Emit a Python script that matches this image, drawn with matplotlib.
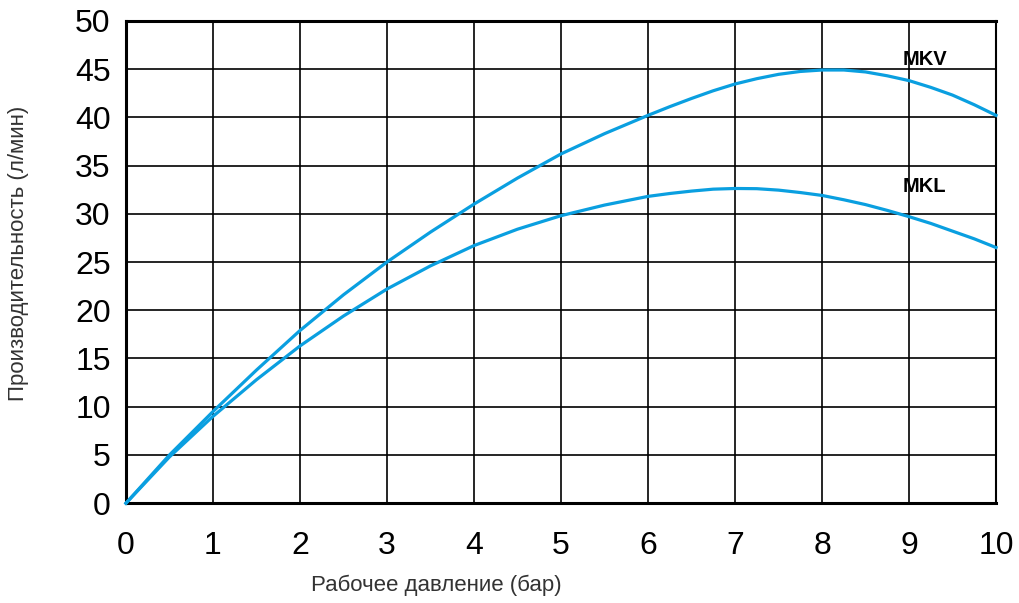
import matplotlib.pyplot as plt

davlenie = [0, 0.5, 1, 1.5, 2, 2.5, 3, 3.5, 4, 4.5, 5, 5.5, 6, 6.25, 6.5, 6.75, 7, 7.25, 7.5, 7.75,
            8, 8.25, 8.5, 8.75, 9, 9.25, 9.5, 9.75, 10]
mkv = [0, 5.0, 9.5, 13.8, 17.9, 21.6, 25.0, 28.1, 31.0, 33.7, 36.2, 38.3, 40.2, 41.1, 41.95, 42.75, 43.45,
       44.0, 44.45, 44.75, 44.9, 44.9, 44.7, 44.3, 43.8, 43.1, 42.3, 41.3, 40.2]
mkl = [0, 4.8, 9.0, 12.8, 16.3, 19.4, 22.2, 24.6, 26.7, 28.4, 29.8, 30.9, 31.8, 32.1, 32.35, 32.55, 32.62,
       32.6, 32.45, 32.2, 31.9, 31.45, 30.95, 30.35, 29.7, 29.0, 28.2, 27.4, 26.5]
xticks = list(range(0, 11))
yticks = list(range(0, 51, 5))

plt.rcParams['font.family'] = ['Liberation Sans', 'DejaVu Sans']

fig = plt.figure(figsize=(10.2, 6.03), dpi=100)
ax = fig.add_axes([0.1235, 0.1655, 0.853, 0.8])

ax.plot(davlenie, mkv, color='#0a9fe0', lw=2.3, zorder=3, clip_on=False, solid_joinstyle='round')
ax.plot(davlenie, mkl, color='#0a9fe0', lw=2.3, zorder=3, clip_on=False, solid_joinstyle='round')

ax.set_xlim(0, 10)
ax.set_ylim(0, 50)
ax.set_xticks(xticks)
ax.set_yticks(yticks)
ax.tick_params(axis='both', length=0, labelsize=23)
ax.tick_params(axis='x', pad=20)
ax.tick_params(axis='y', pad=11)
ax.grid(True, color='black', lw=1.2)
ax.set_axisbelow(True)
for s in ['left', 'bottom', 'top']:
    ax.spines[s].set_linewidth(2.2)
ax.spines['right'].set_linewidth(1.5)

ax.text(9.18, 46, 'MKV', fontsize=14.5, fontweight='bold', ha='center', va='center')
ax.text(9.18, 32.8, 'MKL', fontsize=14.5, fontweight='bold', ha='center', va='center')

fig.text(0.428, 0.012, 'Рабочее давление (бар)', fontsize=16, color='#333333', ha='center', va='bottom')
fig.text(0.018, 0.58, 'Производительность (л/мин)', fontsize=16, color='#333333',
         rotation=90, ha='center', va='center')

plt.savefig('out.png', dpi=100)
